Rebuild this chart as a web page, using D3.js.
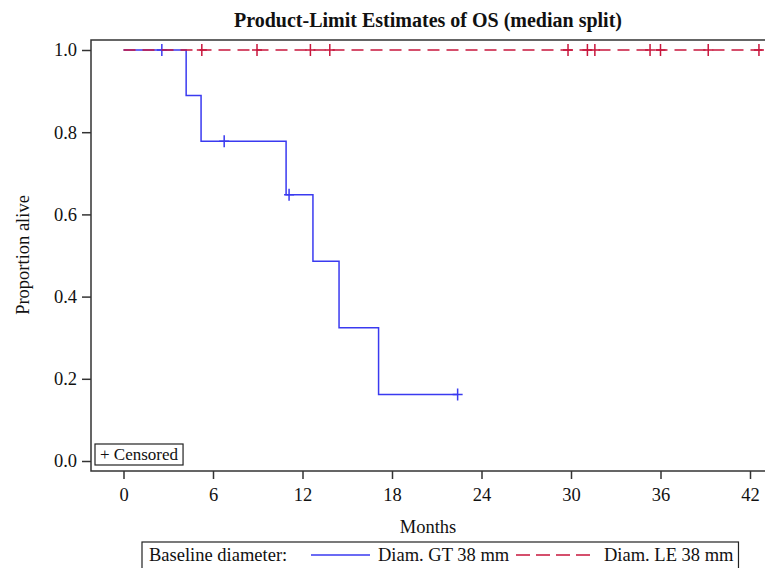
<!DOCTYPE html>
<html>
<head>
<meta charset="utf-8">
<script src="https://cdn.jsdelivr.net/npm/d3@7"></script>
<style>
  body { margin: 0; background: #fff; }
  svg { display: block; }
  text { font-family: "Liberation Serif", "Times New Roman", serif; fill: #111; }
</style>
</head>
<body>
<svg id="chart" width="765" height="568"></svg>
<script>
// Kaplan-Meier steps, Diam. GT 38 mm
const gtTimes = [0, 4.2, 5.2, 10.9, 12.7, 14.45, 17.1, 22.4];
const gtSurv = [1, 0.889, 0.778, 0.648, 0.486, 0.324, 0.162, 0.162];
const gtCensorTimes = [2.57, 6.75, 11.1, 22.4];
const gtCensorSurv = [1, 0.778, 0.648, 0.162];

// Diam. LE 38 mm: no events
const leTimes = [0, 44];
const leSurv = [1, 1];
const leCensorTimes = [5.25, 8.95, 12.53, 13.83, 29.8, 31.1, 31.6, 35.3, 36.0, 39.2, 42.6];

const xTicks = [0, 6, 12, 18, 24, 30, 36, 42];
const yTicks = [0, 0.2, 0.4, 0.6, 0.8, 1.0];

const blue = '#3a3af0';
const red = '#c8163c';

const svg = d3.select('#chart');
const frame = { left: 91, top: 40, right: 768, bottom: 471 };

const x = d3.scaleLinear().domain([0, 42]).range([123.5, 750]);
const y = d3.scaleLinear().domain([0, 1]).range([461, 50]);

svg.append('clipPath').attr('id', 'plotclip')
  .append('rect')
  .attr('x', frame.left).attr('y', frame.top)
  .attr('width', frame.right - frame.left).attr('height', frame.bottom - frame.top);

// title
svg.append('text')
  .attr('x', 428).attr('y', 27)
  .attr('text-anchor', 'middle')
  .style('font-size', '20px').style('font-weight', 'bold')
  .text('Product-Limit Estimates of OS (median split)');

// axes
const xAxis = svg.append('g')
  .attr('transform', `translate(0,${frame.bottom})`)
  .call(d3.axisBottom(x).tickValues(xTicks).tickSize(8).tickPadding(9).tickFormat(d3.format('d')));
const yAxis = svg.append('g')
  .attr('transform', `translate(${frame.left},0)`)
  .call(d3.axisLeft(y).tickValues(yTicks).tickSize(9).tickPadding(5).tickFormat(d3.format('.1f')));
[xAxis, yAxis].forEach(g => {
  g.select('.domain').remove();
  g.selectAll('line').attr('stroke', '#333').attr('stroke-width', 1.5);
  g.selectAll('text').style('font-size', '18.5px').attr('fill', '#111')
    .style('font-family', '"Liberation Serif", "Times New Roman", serif');
});

// frame
svg.append('rect')
  .attr('x', frame.left).attr('y', frame.top)
  .attr('width', frame.right - frame.left).attr('height', frame.bottom - frame.top)
  .attr('fill', 'none').attr('stroke', '#333').attr('stroke-width', 1.5);

// axis titles
svg.append('text')
  .attr('x', 428).attr('y', 533)
  .attr('text-anchor', 'middle')
  .style('font-size', '18.5px')
  .text('Months');
svg.append('text')
  .attr('transform', 'translate(29,255) rotate(-90)')
  .attr('text-anchor', 'middle')
  .style('font-size', '18.5px')
  .text('Proportion alive');

const plot = svg.append('g').attr('clip-path', 'url(#plotclip)');
const step = d3.line().x(d => x(d[0])).y(d => y(d[1])).curve(d3.curveStepAfter);

function censors(times, survs, color) {
  plot.append('g').selectAll('path')
    .data(times.map((t, i) => [t, survs[i]]))
    .join('path')
    .attr('d', d => `M${x(d[0]) - 5},${y(d[1])}h10M${x(d[0])},${y(d[1]) - 6}v12`)
    .attr('stroke', color).attr('stroke-width', 1.5).attr('fill', 'none');
}

plot.append('path')
  .datum(gtTimes.map((t, i) => [t, gtSurv[i]]))
  .attr('d', step)
  .attr('fill', 'none').attr('stroke', blue).attr('stroke-width', 1.5);
censors(gtCensorTimes, gtCensorSurv, blue);

plot.append('path')
  .datum(leTimes.map((t, i) => [t, leSurv[i]]))
  .attr('d', step)
  .attr('fill', 'none').attr('stroke', red).attr('stroke-width', 1.5)
  .attr('stroke-dasharray', '12,7');
censors(leCensorTimes, leCensorTimes.map(() => 1), red);

// censored inset
const cg = svg.append('g');
const ct = cg.append('text').attr('x', 100).attr('y', 460).style('font-size', '17px').text('+ Censored');
const cw = ct.node().getComputedTextLength();
cg.insert('rect', 'text')
  .attr('x', 95).attr('y', 444).attr('width', cw + 10).attr('height', 21)
  .attr('fill', '#fff').attr('stroke', '#222').attr('stroke-width', 1.2);

// bottom legend
const lg = svg.append('g');
const ly = 561;
lg.append('text').attr('x', 149).attr('y', ly).style('font-size', '18.5px').text('Baseline diameter:');
lg.append('line').attr('x1', 311).attr('x2', 370).attr('y1', 555).attr('y2', 555)
  .attr('stroke', blue).attr('stroke-width', 1.5);
lg.append('text').attr('x', 378).attr('y', ly).style('font-size', '18.5px').text('Diam. GT 38 mm');
lg.append('line').attr('x1', 516).attr('x2', 594).attr('y1', 555).attr('y2', 555)
  .attr('stroke', red).attr('stroke-width', 1.5).attr('stroke-dasharray', '14,6');
const t3 = lg.append('text').attr('x', 604).attr('y', ly).style('font-size', '18.5px').text('Diam. LE 38 mm');
const endX = 604 + t3.node().getComputedTextLength() + 5;
lg.insert('rect', 'text')
  .attr('x', 142).attr('y', 542).attr('width', endX - 142).attr('height', 30)
  .attr('fill', '#fff').attr('stroke', '#222').attr('stroke-width', 1.2);
</script>
</body>
</html>
